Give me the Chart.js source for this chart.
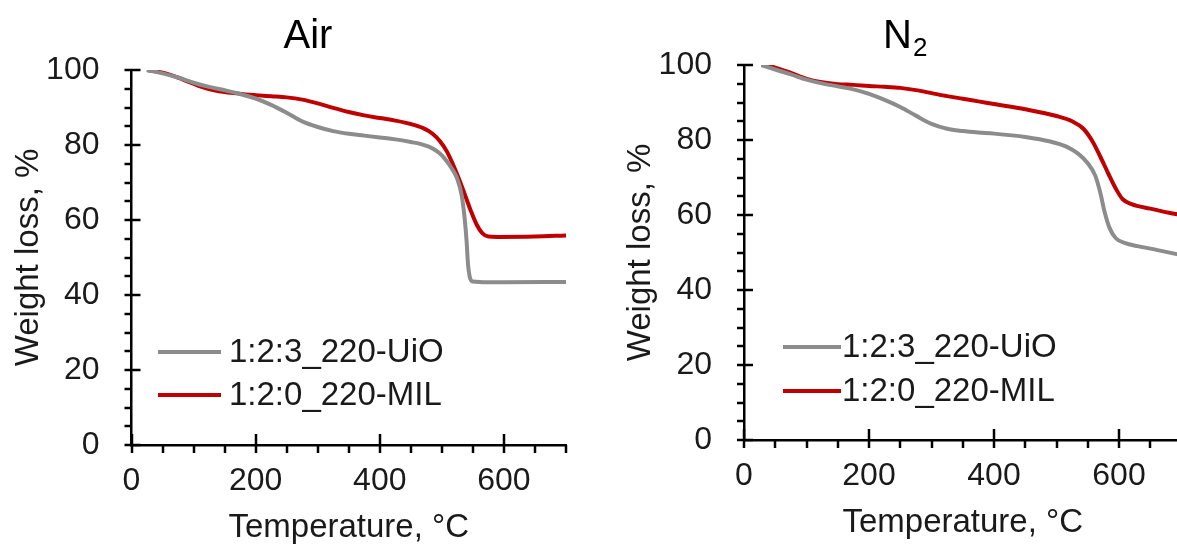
<!DOCTYPE html>
<html>
<head>
<meta charset="utf-8">
<script src="https://cdn.jsdelivr.net/npm/chart.js@4.4.0/dist/chart.umd.min.js"></script>
<style>
  body { margin: 0; width: 1177px; height: 551px; overflow: hidden; background: #fff; position: relative; }
  .panel { position: absolute; top: 0; width: 590px; height: 551px; }
</style>
</head>
<body>
<div class="panel" style="left:0"><canvas id="air"></canvas></div>
<div class="panel" style="left:600px"><canvas id="n2"></canvas></div>
<script>
// Air
const airUioT = [25, 50, 75, 100, 125, 150, 175, 200, 225, 250, 275, 300, 325, 350, 375, 400, 425, 450, 465, 480, 495, 505, 515, 525, 532, 537, 540, 542, 545, 550, 575, 600, 700];
const airUioW = [100, 99.1, 98.0, 96.6, 95.5, 94.6, 93.6, 92.4, 90.7, 88.6, 86.3, 84.8, 83.7, 83.0, 82.5, 82.0, 81.5, 80.8, 80.3, 79.5, 78.0, 76.3, 74.0, 70.9, 66.5, 60, 54, 48.5, 44.8, 43.6, 43.4, 43.4, 43.5];
const airMilT = [25, 55, 82, 109, 135, 173, 200, 225, 250, 275, 300, 325, 350, 375, 400, 425, 450, 470, 485, 497, 508, 518, 527, 537, 547, 556, 565, 575, 590, 650, 700];
const airMilW = [100, 99.1, 97.5, 95.7, 94.5, 93.7, 93.3, 93.0, 92.7, 92.1, 91.1, 89.9, 88.8, 87.9, 87.2, 86.5, 85.6, 84.5, 83.0, 81.0, 78.3, 74.8, 71.2, 66.8, 62.3, 58.8, 56.5, 55.6, 55.5, 55.6, 55.9];
// N2
const n2UioT = [28, 50, 75, 100, 125, 150, 175, 200, 225, 250, 275, 300, 325, 350, 375, 400, 450, 490, 515, 535, 550, 562, 570, 577, 585, 595, 610, 630, 660, 700];
const n2UioW = [100, 98.8, 97.5, 96.1, 95.1, 94.3, 93.5, 92.3, 90.7, 88.8, 86.5, 84.3, 83.0, 82.4, 82.0, 81.7, 80.8, 79.6, 78.3, 76.3, 73.8, 70.5, 66, 60.8, 56.5, 53.8, 52.5, 51.7, 50.7, 49.3];
const n2MilT = [28, 50, 75, 100, 125, 150, 175, 200, 225, 250, 275, 300, 325, 350, 375, 400, 450, 500, 525, 543, 557, 570, 583, 596, 606, 620, 650, 680, 700];
const n2MilW = [100, 99.3, 97.9, 96.3, 95.4, 94.9, 94.7, 94.4, 94.2, 93.9, 93.3, 92.5, 91.7, 91.0, 90.3, 89.6, 88.2, 86.4, 85.0, 83.0, 79.8, 75.6, 71, 66.7, 64.2, 62.9, 61.7, 60.6, 60];

const seriesNames = ['1:2:3_220-UiO', '1:2:0_220-MIL'];
const seriesColors = ['#8c8c8c', '#c00000'];
const xTicks = [0, 200, 400, 600];
const yTicks = [0, 20, 40, 60, 80, 100];

const FONT = "'Liberation Sans', Arial, sans-serif";

function pts(t, w) { return t.map((v, i) => ({ x: v, y: w[i] })); }

// major ticks cross the axis, minor ticks only outside
const axisTicks = {
  id: 'axisTicks',
  afterDraw(chart) {
    const { ctx, scales: { x, y } } = chart;
    ctx.save();
    ctx.strokeStyle = '#000';
    ctx.lineWidth = 2.5;
    for (let v = 0; v <= 100; v += 5) {
      const py = Math.round(y.getPixelForValue(v));
      const major = v % 20 === 0;
      ctx.beginPath();
      ctx.moveTo(x.left - 7, py);
      ctx.lineTo(x.left + (major ? 9 : 0), py);
      ctx.stroke();
    }
    for (let v = 0; v <= 700; v += 50) {
      const px = Math.round(x.getPixelForValue(v));
      const major = v % 200 === 0;
      ctx.beginPath();
      ctx.moveTo(px, y.bottom + 8);
      ctx.lineTo(px, y.bottom - (major ? 11 : 0));
      ctx.stroke();
    }
    ctx.restore();
  }
};

const panelTitle = {
  id: 'panelTitle',
  afterDraw(chart, args, o) {
    const ctx = chart.ctx;
    ctx.save();
    ctx.fillStyle = '#000';
    ctx.textBaseline = 'middle';
    ctx.font = '40px ' + FONT;
    ctx.textAlign = o.sub ? 'left' : 'center';
    ctx.fillText(o.text, o.x, o.y);
    if (o.sub) {
      const w = ctx.measureText(o.text).width;
      ctx.font = '26px ' + FONT;
      ctx.fillText(o.sub, o.x + w + 1, o.y + 12);
    }
    ctx.restore();
  }
};

const lineLegend = {
  id: 'lineLegend',
  afterDraw(chart, args, o) {
    const ctx = chart.ctx;
    ctx.save();
    ctx.font = '33px ' + FONT;
    ctx.textBaseline = 'middle';
    ctx.textAlign = 'left';
    chart.data.datasets.forEach((ds, i) => {
      const yy = o.rows[i];
      ctx.strokeStyle = ds.borderColor;
      ctx.lineWidth = 4;
      ctx.beginPath();
      ctx.moveTo(o.x1, yy);
      ctx.lineTo(o.x2, yy);
      ctx.stroke();
      ctx.fillStyle = '#1a1a1a';
      ctx.fillText(ds.label, o.textX, yy + 1);
    });
    ctx.restore();
  }
};

function makeChart(id, uio, mil, lay) {
  return new Chart(id, {
    type: 'line',
    data: {
      datasets: [uio, mil].map((d, i) => ({
        label: seriesNames[i],
        data: d,
        borderColor: seriesColors[i],
        borderWidth: 4,
        pointRadius: 0,
        cubicInterpolationMode: 'monotone',
        fill: false
      }))
    },
    options: {
      responsive: true,
      maintainAspectRatio: false,
      animation: false,
      layout: { padding: { left: 0, right: lay.padRight, top: lay.top, bottom: 0 } },
      scales: {
        x: {
          type: 'linear',
          min: 0,
          max: 700,
          afterBuildTicks: s => { s.ticks = xTicks.map(v => ({ value: v })); },
          afterFit: s => { s.height = lay.xHeight; },
          grid: { display: false, drawTicks: false },
          border: { display: true, color: '#000', width: 2.5 },
          ticks: { color: '#1a1a1a', font: { family: FONT, size: 32 }, padding: 17, maxRotation: 0 },
          title: { display: true, text: 'Temperature, °C', color: '#1a1a1a', font: { family: FONT, size: 33 }, padding: { top: 0, bottom: lay.xTitlePad } }
        },
        y: {
          min: 0,
          max: 100,
          afterBuildTicks: s => { s.ticks = yTicks.map(v => ({ value: v })); },
          afterFit: s => { s.width = lay.yWidth; },
          grid: { display: false, drawTicks: false },
          border: { display: true, color: '#000', width: 2.5 },
          ticks: { color: '#1a1a1a', font: { family: FONT, size: 32 }, padding: 32 },
          title: { display: true, text: 'Weight loss, %', color: '#1a1a1a', font: { family: FONT, size: 33 }, padding: { top: lay.yTitlePad, bottom: 0 } }
        }
      },
      plugins: {
        legend: { display: false },
        tooltip: { enabled: false },
        panelTitle: lay.title,
        lineLegend: lay.legend
      }
    },
    plugins: [axisTicks, panelTitle, lineLegend]
  });
}

makeChart('air', pts(airUioT, airUioW), pts(airMilT, airMilW), {
  padRight: 24, top: 70, xHeight: 106, yWidth: 131.5, xTitlePad: 3, yTitlePad: 9,
  title: { text: 'Air', x: 308, y: 37 },
  legend: { x1: 158, x2: 221, textX: 229, rows: [352, 395] }
});

makeChart('n2', pts(n2UioT, n2UioW), pts(n2MilT, n2MilW), {
  padRight: 8.5, top: 65, xHeight: 111, yWidth: 144, xTitlePad: 8, yTitlePad: 21,
  title: { text: 'N', sub: '2', x: 283, y: 37 },
  legend: { x1: 183, x2: 241, textX: 242, rows: [347, 391] }
});
</script>
</body>
</html>
